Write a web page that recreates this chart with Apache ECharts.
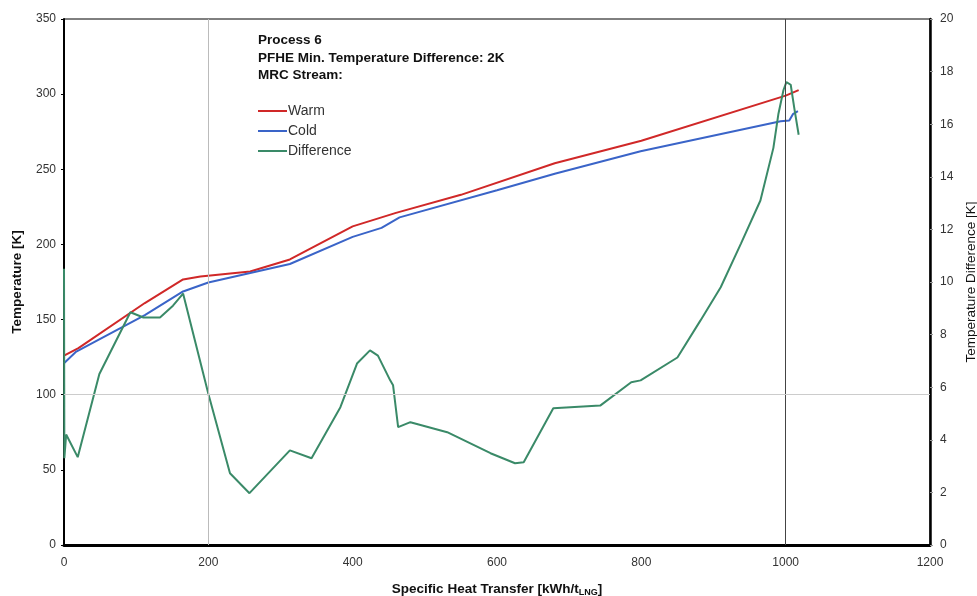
<!DOCTYPE html>
<html>
<head>
<meta charset="utf-8">
<script src="https://cdn.jsdelivr.net/npm/echarts@6/dist/echarts.min.js"></script>
<style>html,body{margin:0;padding:0;background:#fff}#c{width:977px;height:596px}</style>
</head>
<body>
<div id="c"></div>
<script>
// Data
const warmX = [0, 20, 112, 165, 189, 258, 313, 400, 460, 550, 680, 800, 1000, 1018];
const warmT = [126, 131, 161, 176.7, 178.7, 182, 190, 212, 221, 233, 254, 269, 299, 302.7];
const coldX = [0, 17, 112, 165, 200, 258, 313, 400, 440, 465, 600, 680, 799, 993, 1005, 1010, 1017];
const coldT = [121, 128.7, 153, 168.7, 174.7, 181, 187, 205, 211, 218, 236, 247, 262, 282, 282.5, 286.7, 288.7];
const diffX = [0, 0.5, 3, 19, 49, 92, 110, 133, 151, 165, 200, 230, 257, 313, 343, 383, 406, 424, 435, 452, 456, 463, 480, 531, 591, 625, 637, 678, 743, 786, 799, 850, 882, 910, 938, 965, 983, 990, 997, 1001, 1007, 1012, 1018];
const diffT = [10.5, 3.3, 4.2, 3.34, 6.5, 8.85, 8.65, 8.65, 9.1, 9.56, 5.75, 2.73, 1.97, 3.6, 3.3, 5.24, 6.9, 7.4, 7.2, 6.26, 6.07, 4.48, 4.67, 4.29, 3.49, 3.11, 3.15, 5.2, 5.3, 6.19, 6.26, 7.13, 8.54, 9.8, 11.46, 13.1, 15.1, 16.4, 17.3, 17.6, 17.5, 16.6, 15.6];
const titleLines = ['Process 6', 'PFHE Min. Temperature Difference: 2K', 'MRC Stream:'];
const seriesNames = ['Warm', 'Cold', 'Difference'];

const zip = (xs, ys) => xs.map((x, i) => [x, ys[i]]);
const font = 'Liberation Sans, Arial, sans-serif';
const chart = echarts.init(document.getElementById('c'), null, {renderer: 'canvas'});
chart.setOption({
  animation: false,
  backgroundColor: '#fff',
  title: {
    text: titleLines.join('\n'), left: 253, top: 27,
    textStyle: {fontFamily: font, fontSize: 13.5, fontWeight: 'bold', color: '#111', lineHeight: 17.5}
  },
  legend: {
    orient: 'vertical', left: 253, top: 99, itemWidth: 29, itemHeight: 2, itemGap: 6,
    icon: 'rect', textStyle: {fontFamily: font, fontSize: 14, color: '#333', padding: [0,0,0,-4]},
    data: seriesNames
  },
  grid: {left: 64, right: 47, top: 19, bottom: 51, show: true, borderColor: '#000', borderWidth: 1,
         containLabel: false, outerBoundsMode: 'none'},
  xAxis: {
    type: 'value', min: 0, max: 1200, interval: 200,
    name: '{b|Specific Heat Transfer [kWh/t}{s|LNG}{b|]}', nameLocation: 'middle', nameGap: 36,
    nameTextStyle: {rich: {b: {fontFamily: font, fontSize: 13.5, fontWeight: 'bold', color: '#111'}, s: {fontFamily: font, fontSize: 9, fontWeight: 'bold', color: '#111', verticalAlign: 'bottom', padding: [7,0,0,0]}}},
    axisLine: {lineStyle: {color: '#000', width: 3}},
    axisTick: {show: false},
    splitLine: {show: false},
    axisLabel: {fontFamily: font, fontSize: 12, color: '#333', margin: 12, formatter: v => String(v)}
  },
  yAxis: [{
    type: 'value', min: 0, max: 350, interval: 50,
    name: 'Temperature [K]', nameLocation: 'middle', nameGap: 40,
    nameTextStyle: {fontFamily: font, fontSize: 13.5, fontWeight: 'bold', color: '#111'},
    axisLine: {show: true, lineStyle: {color: '#000', width: 2}},
    axisTick: {show: true, length: 3, lineStyle: {color: '#000'}},
    splitLine: {show: false},
    axisLabel: {fontFamily: font, fontSize: 12, color: '#333', margin: 8, formatter: v => String(v)}
  }, {
    type: 'value', min: 0, max: 20, interval: 2, position: 'right',
    name: 'Temperature Difference [K]', nameLocation: 'middle', nameGap: 31, nameRotate: 90,
    nameTextStyle: {fontFamily: font, fontSize: 13.5, color: '#111'},
    axisLine: {show: true, lineStyle: {color: '#000', width: 2.5}},
    axisTick: {show: true, length: 3, lineStyle: {color: '#999'}},
    splitLine: {show: false},
    axisLabel: {fontFamily: font, fontSize: 12, color: '#333', margin: 10, formatter: v => String(v)}
  }],
  series: [{
    name: seriesNames[0], type: 'line', data: zip(warmX, warmT), showSymbol: false,
    lineStyle: {color: '#d02828', width: 2}, itemStyle: {color: '#d02828'}, z: 3,
    markLine: {
      silent: true, symbol: 'none', label: {show: false},
      data: [
        {xAxis: 200, lineStyle: {color: '#bbb', width: 1, type: 'solid'}},
        {xAxis: 1000, lineStyle: {color: '#444', width: 1, type: 'solid'}},
        {yAxis: 100, lineStyle: {color: '#ccc', width: 1, type: 'solid'}}
      ]
    }
  }, {
    name: seriesNames[1], type: 'line', data: zip(coldX, coldT), showSymbol: false,
    lineStyle: {color: '#3a64c8', width: 2}, itemStyle: {color: '#3a64c8'}, z: 3
  }, {
    name: seriesNames[2], type: 'line', yAxisIndex: 1, data: zip(diffX, diffT), showSymbol: false,
    lineStyle: {color: '#3a8a68', width: 2}, itemStyle: {color: '#3a8a68'}, z: 3
  }]
});
</script>
</body>
</html>
